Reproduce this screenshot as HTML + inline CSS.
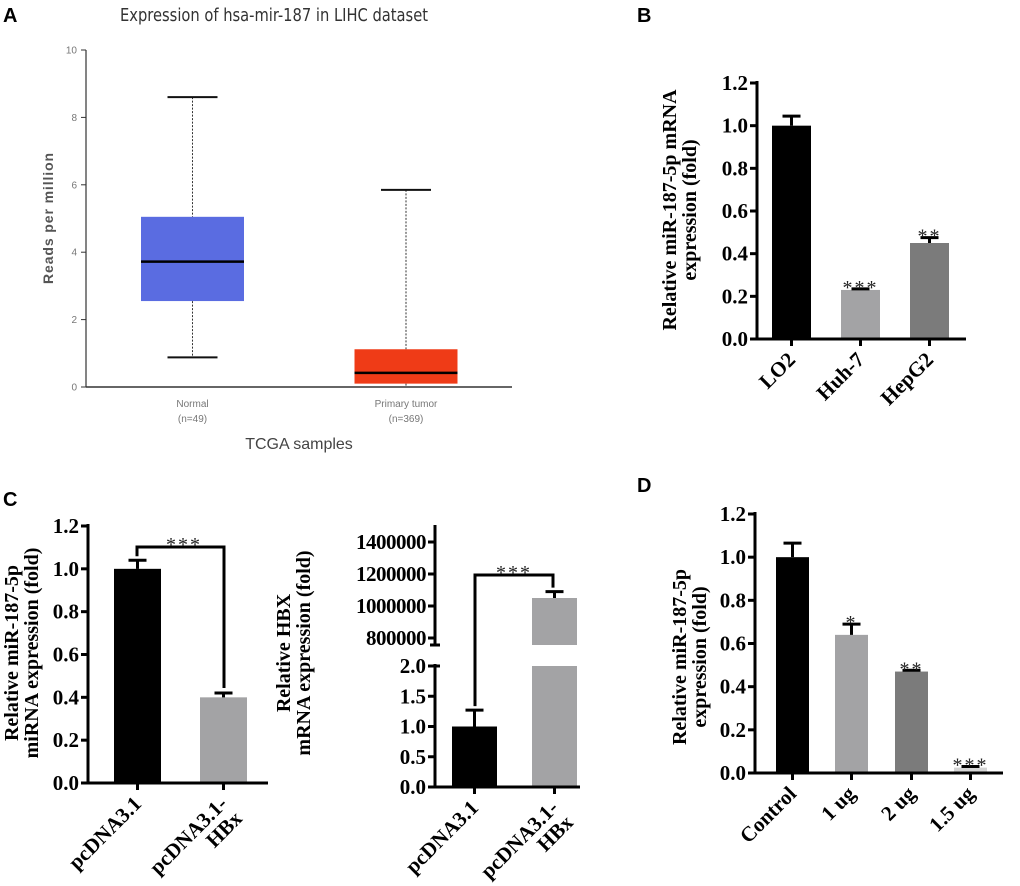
<!DOCTYPE html>
<html><head><meta charset="utf-8"><style>
body{margin:0;background:#fff;}
svg{display:block;}
.serif{font-family:"Liberation Serif",serif;font-weight:bold;}
.sans{font-family:"Liberation Sans",sans-serif;}
</style></head><body>
<svg id="fig" width="1020" height="886" viewBox="0 0 1020 886" xmlns="http://www.w3.org/2000/svg">
<g class="sans" font-weight="bold" font-size="20" fill="#000">
<text x="3" y="22">A</text>
<text x="637" y="22">B</text>
<text x="3" y="506">C</text>
<text x="637" y="492">D</text>
</g>
<g id="pa"></g>
<g id="pb"></g>
<g id="pc1"></g>
<g id="pc2"></g>
<g id="pd"></g>
</svg>
<script>
// Panel A data
const aGroups = ["Normal", "Primary tumor"];
const aCounts = ["(n=49)", "(n=369)"];
const aMin = [0.88, 0.0];
const aQ1 = [2.55, 0.1];
const aMed = [3.72, 0.42];
const aQ3 = [5.05, 1.12];
const aMax = [8.6, 5.85];
const aTicks = [0, 2, 4, 6, 8, 10];
const aColors = ["#5567e0", "#ee3510"];
// Panel B data
const bCats = ["LO2", "Huh-7", "HepG2"];
const bVals = [1.0, 0.23, 0.45];
const bErr = [0.045, 0.005, 0.025];
const bStars = ["", "***", "**"];
const bTicks = ["0.0", "0.2", "0.4", "0.6", "0.8", "1.0", "1.2"];
// Panel C left
const c1Cats = ["pcDNA3.1", "pcDNA3.1-|HBx"];
const c1Vals = [1.0, 0.4];
const c1Err = [0.04, 0.02];
const c1Ticks = ["0.0", "0.2", "0.4", "0.6", "0.8", "1.0", "1.2"];
// Panel C right (broken axis)
const c2Cats = ["pcDNA3.1", "pcDNA3.1-|HBx"];
const c2Vals = [1.0, 1050000];
const c2Err = [0.27, 40000];
const c2LowTicks = ["0.0", "0.5", "1.0", "1.5", "2.0"];
const c2HighTicks = ["800000", "1000000", "1200000", "1400000"];
// Panel D
const dCats = ["Control", "1 ug", "2 ug", "1.5 ug"];
const dVals = [1.0, 0.64, 0.47, 0.025];
const dErr = [0.065, 0.05, 0.006, 0.005];
const dStars = ["", "*", "**", "***"];
const dTicks = ["0.0", "0.2", "0.4", "0.6", "0.8", "1.0", "1.2"];

const NS = "http://www.w3.org/2000/svg";
function mk(parent, tag, attrs, text) {
  const e = document.createElementNS(NS, tag);
  for (const k in attrs) e.setAttribute(k, attrs[k]);
  if (text !== undefined) e.textContent = text;
  parent.appendChild(e);
  return e;
}

// ---------- Panel A ----------
(function () {
  const g = document.getElementById('pa');
  const x0 = 86, y0 = 387, y10 = 50, xEnd = 512;
  const ys = v => y0 - (v / 10) * (y0 - y10);
  const centers = [192.5, 406];
  const bw = 103;
  let t = mk(g, 'text', {x: 274, y: 21, 'text-anchor': 'middle', 'font-size': 18, fill: '#333', textLength: 308, lengthAdjust: 'spacingAndGlyphs', 'font-family': '"Liberation Sans Narrow","DejaVu Sans Condensed","Liberation Sans",sans-serif'}, 'Expression of hsa-mir-187 in LIHC dataset');
  
  
  let ax = mk(g, 'line', {x1: x0, y1: y10, x2: x0, y2: y0, stroke: '#333', 'stroke-width': 1.2});
  
  
  let xa = mk(g, 'line', {x1: x0, y1: y0, x2: xEnd, y2: y0, stroke: '#333', 'stroke-width': 1.5});
  
  
  aTicks.forEach(v => {
    const y = ys(v);
    mk(g, 'line', {x1: x0 - 5, y1: y, x2: x0, y2: y, stroke: '#333', 'stroke-width': 1});
    const tl = mk(g, 'text', {x: x0 - 9, y: y + 3.5, 'text-anchor': 'end', 'font-size': 10, fill: '#777', 'font-family': '"Liberation Sans Narrow","Liberation Sans",sans-serif'}, String(v));
    
    
  });
  const yl = mk(g, 'text', {x: 0, y: 0, transform: 'translate(53,218) rotate(-90)', 'text-anchor': 'middle', 'font-size': 14, 'font-weight': 'bold', fill: '#555', 'letter-spacing': '0.9', 'font-family': '"Liberation Sans",sans-serif'}, 'Reads per million');
  
  
  aGroups.forEach((name, i) => {
    const cx = centers[i];
    const w1 = mk(g, 'line', {x1: cx, y1: ys(aMax[i]), x2: cx, y2: ys(aQ3[i]), stroke: '#333', 'stroke-dasharray': '2,1.5', 'stroke-width': 1});
    
    
    const w2 = mk(g, 'line', {x1: cx, y1: ys(aQ1[i]), x2: cx, y2: ys(aMin[i]), stroke: '#333', 'stroke-dasharray': '2,1.5', 'stroke-width': 1});
    
    
    mk(g, 'line', {x1: cx - 25, y1: ys(aMax[i]), x2: cx + 25, y2: ys(aMax[i]), stroke: '#111', 'stroke-width': 2});
    if (aMin[i] > 0.05) mk(g, 'line', {x1: cx - 25, y1: ys(aMin[i]), x2: cx + 25, y2: ys(aMin[i]), stroke: '#111', 'stroke-width': 2});
    const b = mk(g, 'rect', {x: cx - bw / 2, y: ys(aQ3[i]), width: bw, height: ys(aQ1[i]) - ys(aQ3[i]), fill: aColors[i], 'fill-opacity': 0.97});
    
    
    const m = mk(g, 'line', {x1: cx - bw / 2, y1: ys(aMed[i]), x2: cx + bw / 2, y2: ys(aMed[i]), stroke: '#000', 'stroke-width': 2.5});
    
    
    const l1 = mk(g, 'text', {x: cx, y: 407, 'text-anchor': 'middle', 'font-size': 10, fill: '#777', 'font-family': '"Liberation Sans Narrow","Liberation Sans",sans-serif'}, name);
    
    
    const l2 = mk(g, 'text', {x: cx, y: 422, 'text-anchor': 'middle', 'font-size': 10, fill: '#777', 'font-family': '"Liberation Sans Narrow","Liberation Sans",sans-serif'}, aCounts[i]);
    
    
  });
  const xt = mk(g, 'text', {x: 299, y: 449, 'text-anchor': 'middle', 'font-size': 16, fill: '#444', 'font-family': '"Liberation Sans Narrow","Liberation Sans",sans-serif'}, 'TCGA samples');
  
  
})();

// generic bar chart for serif-styled panels
function barChart(g, o) {
  const ys = v => o.y0 - (v / o.max) * (o.y0 - o.yTop);
  const ax = mk(g, 'line', {x1: o.x0, y1: o.yTop - 2, x2: o.x0, y2: o.y0 + 1.5, stroke: '#000', 'stroke-width': 3});
  
  
  const xa = mk(g, 'line', {x1: o.x0 - 1.5, y1: o.y0, x2: o.xEnd, y2: o.y0, stroke: '#000', 'stroke-width': 3});
  
  
  o.ticks.forEach(s => {
    const y = ys(parseFloat(s));
    mk(g, 'line', {x1: o.x0 - 7, y1: y, x2: o.x0, y2: y, stroke: '#000', 'stroke-width': 3});
    const tl = mk(g, 'text', {x: o.x0 - 9, y: y + 7, 'text-anchor': 'end', 'font-size': 21, class: 'serif'}, s);
    
    
  });
  const yl = mk(g, 'text', {transform: 'translate(' + o.labX + ',' + o.labY + ') rotate(-90)', 'text-anchor': 'middle', 'font-size': 20, class: 'serif', fill: '#000'});
  
  
  o.ylabel.forEach((ln, k) => mk(yl, 'tspan', {x: 0, dy: k === 0 ? 0 : 20}, ln));
  o.cats.forEach((c, i) => {
    const x = o.bx[i];
    const y = ys(o.vals[i]);
    const b = mk(g, 'rect', {x: x, y: y, width: o.bw, height: o.y0 - y - 1.5, fill: o.colors[i]});
    
    
    const cx = x + o.bw / 2;
    const ye = ys(o.vals[i] + o.err[i]);
    const eb = mk(g, 'path', {d: 'M' + cx + ' ' + y + 'V' + ye + 'M' + (cx - 9) + ' ' + ye + 'H' + (cx + 9), stroke: '#000', 'stroke-width': 3, fill: 'none'});
    
    
    mk(g, 'line', {x1: cx, y1: o.y0, x2: cx, y2: o.y0 + 7, stroke: '#000', 'stroke-width': 3});
    if (o.stars && o.stars[i]) {
      const st = mk(g, 'text', {x: cx, y: ye + 5, 'text-anchor': 'middle', 'font-size': 20, 'letter-spacing': '2', 'font-family': '"Liberation Serif",serif', fill: '#222'}, o.stars[i]);
      
      
    }
    const lines = c.split('|');
    const lt = mk(g, 'text', {transform: 'translate(' + (cx + 5) + ',' + (o.y0 + 22) + ') rotate(-45)', 'text-anchor': 'end', 'font-size': 21, class: 'serif'});
    
    
    lines.forEach((ln, k) => mk(lt, 'tspan', {x: 0, dy: k === 0 ? 0 : 21}, ln));
  });
  return ys;
}

// Panel B
barChart(document.getElementById('pb'), {
  x0: 757, y0: 339, yTop: 83, max: 1.2, xEnd: 966, ticks: bTicks,
  cats: bCats, vals: bVals, err: bErr, stars: bStars, bx: [772, 841, 910], bw: 39,
  colors: ['#000', '#a3a3a5', '#7b7b7b'], labX: 676, labY: 210,
  ylabel: ['Relative  miR-187-5p mRNA', 'expression (fold)']
});

// Panel C left
(function () {
  const g = document.getElementById('pc1');
  const ys = barChart(g, {
    x0: 88, y0: 783, yTop: 526, max: 1.2, xEnd: 268, ticks: c1Ticks,
    cats: c1Cats, vals: c1Vals, err: c1Err, bx: [114, 200], bw: 47,
    colors: ['#000', '#a3a3a5'], labX: 18, labY: 653,
    ylabel: ['Relative  miR-187-5p', 'miRNA  expression (fold)']
  });
  const yb = 547;
  const br = mk(g, 'path', {d: 'M137 ' + (ys(c1Vals[0] + c1Err[0]) - 4) + 'V' + yb + 'H224V' + (ys(c1Vals[1] + c1Err[1]) - 5), stroke: '#000', 'stroke-width': 3, fill: 'none'});
  
  
  const st = mk(g, 'text', {x: 184, y: 551, 'text-anchor': 'middle', 'font-size': 20, 'letter-spacing': '2', 'font-family': '"Liberation Serif",serif', fill: '#222'}, '***');
  
  
})();

// Panel C right (broken axis)
(function () {
  const g = document.getElementById('pc2');
  const x0 = 435, y0 = 787, yLowTop = 666, yHi0 = 638, yHiTop = 542;
  const yl = v => y0 - (v / 2) * (y0 - yLowTop);
  const yh = v => yHi0 - ((v - 800000) / 600000) * (yHi0 - yHiTop);
  const ys = v => v <= 2 ? yl(v) : yh(v);
  const bx = [452, 532], bw = 45, colors = ['#000', '#a3a3a5'];
  let a1 = mk(g, 'line', {x1: x0, y1: 664, x2: x0, y2: y0 + 1.5, stroke: '#000', 'stroke-width': 3});
  
  
  let a2 = mk(g, 'line', {x1: x0, y1: 525, x2: x0, y2: 645, stroke: '#000', 'stroke-width': 3});
  
  
  mk(g, 'line', {x1: x0 - 5, y1: 645, x2: x0 + 5, y2: 645, stroke: '#000', 'stroke-width': 3});
  mk(g, 'line', {x1: x0 - 5, y1: 666, x2: x0 + 5, y2: 666, stroke: '#000', 'stroke-width': 3});
  let xa = mk(g, 'line', {x1: x0 - 1.5, y1: y0, x2: 580, y2: y0, stroke: '#000', 'stroke-width': 3});
  
  
  c2LowTicks.forEach(s => {
    const y = yl(parseFloat(s));
    mk(g, 'line', {x1: x0 - 7, y1: y, x2: x0, y2: y, stroke: '#000', 'stroke-width': 3});
    const t = mk(g, 'text', {x: x0 - 9, y: y + 7, 'text-anchor': 'end', 'font-size': 21, class: 'serif'}, s);
    
    
  });
  c2HighTicks.forEach(s => {
    const y = yh(parseFloat(s));
    mk(g, 'line', {x1: x0 - 7, y1: y, x2: x0, y2: y, stroke: '#000', 'stroke-width': 3});
    const t = mk(g, 'text', {x: x0 - 9, y: y + 7, 'text-anchor': 'end', 'font-size': 21, class: 'serif', 'letter-spacing': '-0.5'}, s);
    
    
  });
  const lab = mk(g, 'text', {transform: 'translate(290,653) rotate(-90)', 'text-anchor': 'middle', 'font-size': 20, class: 'serif'});
  
  
  mk(lab, 'tspan', {x: 0, dy: 0}, 'Relative  HBX');
  mk(lab, 'tspan', {x: 0, dy: 20}, 'mRNA  expression (fold)');
  c2Cats.forEach((c, i) => {
    const v = c2Vals[i], cx = bx[i] + bw / 2;
    if (v <= 2) {
      const r = mk(g, 'rect', {x: bx[i], y: yl(v), width: bw, height: y0 - yl(v) - 1.5, fill: colors[i]});
      
      
    } else {
      const r1 = mk(g, 'rect', {x: bx[i], y: yLowTop, width: bw, height: y0 - yLowTop - 1.5, fill: colors[i]});
      
      
      const r2 = mk(g, 'rect', {x: bx[i], y: yh(v), width: bw, height: 645 - yh(v), fill: colors[i]});
      
      
    }
    const ye = ys(v + c2Err[i]);
    const eb = mk(g, 'path', {d: 'M' + cx + ' ' + ys(v) + 'V' + ye + 'M' + (cx - 9) + ' ' + ye + 'H' + (cx + 9), stroke: '#000', 'stroke-width': 3, fill: 'none'});
    
    
    mk(g, 'line', {x1: cx, y1: y0, x2: cx, y2: y0 + 7, stroke: '#000', 'stroke-width': 3});
    const lines = c.split('|');
    const lt = mk(g, 'text', {transform: 'translate(' + (cx + 5) + ',' + (y0 + 22) + ') rotate(-45)', 'text-anchor': 'end', 'font-size': 21, class: 'serif'});
    
    
    lines.forEach((ln, k) => mk(lt, 'tspan', {x: 0, dy: k === 0 ? 0 : 21}, ln));
  });
  const br = mk(g, 'path', {d: 'M475 ' + (ys(c2Vals[0] + c2Err[0]) - 4) + 'V575H553V' + (ys(c2Vals[1] + c2Err[1]) - 4), stroke: '#000', 'stroke-width': 3, fill: 'none'});
  
  
  const st = mk(g, 'text', {x: 514, y: 579, 'text-anchor': 'middle', 'font-size': 20, 'letter-spacing': '2', 'font-family': '"Liberation Serif",serif', fill: '#222'}, '***');
  
  
})();

// Panel D
barChart(document.getElementById('pd'), {
  x0: 755, y0: 773, yTop: 514, max: 1.2, xEnd: 1003, ticks: dTicks,
  cats: dCats, vals: dVals, err: dErr, stars: dStars, bx: [776, 835, 895, 954], bw: 33,
  colors: ['#000', '#a3a3a5', '#7b7b7b', '#d4d4d4'], labX: 686, labY: 657,
  ylabel: ['Relative  miR-187-5p', 'expression (fold)']
});
</script>
</body></html>
